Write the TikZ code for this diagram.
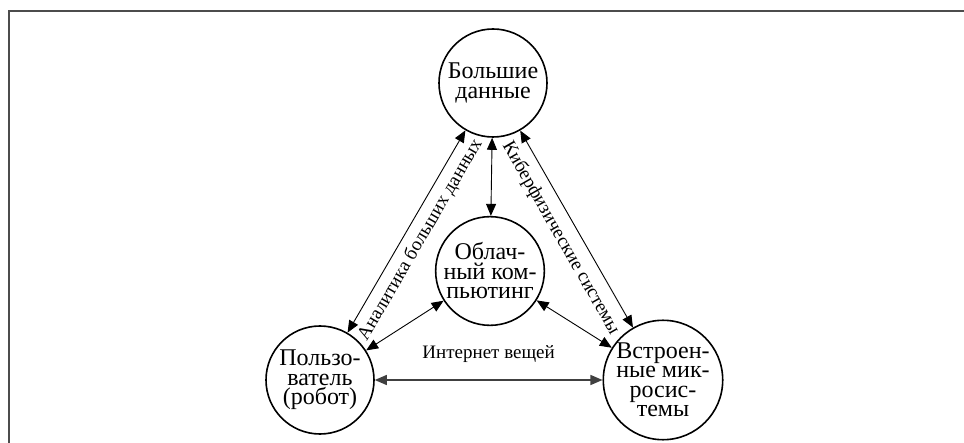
\documentclass[tikz,border=0pt]{standalone}
\usepackage{fontspec}
\setmainfont{Liberation Serif}
\usepackage{tikz}
\usetikzlibrary{shapes,arrows.meta}
\tikzstyle{block} = [circle, draw, line width=1.6pt, minimum size=108pt, inner sep=0pt, align=center, font=\fontsize{24}{19.5}\selectfont]
\tikzstyle{line} = [draw, line width=0.9pt, {Triangle[length=12pt,width=10pt]}-{Triangle[length=12pt,width=10pt]}]
\tikzstyle{lbl} = [font=\fontsize{19}{20}\selectfont, inner sep=2pt]
\tikzstyle{frame} = [draw=black!70, line width=1.5pt]

\begin{document}
\begin{tikzpicture}[x=1pt,y=-1pt]
\useasboundingbox (0,0) rectangle (964,443);
\draw [frame] (9,443) -- (9,11) -- (964,11);

\node [block] (p1) at (493,83) {Большие\\данные};
\node [block] (p2) at (490,271) {Облач-\\ный ком-\\пьютинг};
\node [block] (p3) at (320,380) {Пользо-\\ватель\\(робот)};
\node [block] (p4) at (663,380) {Встроен-\\ные мик-\\росис-\\темы};

\path [line] (p1) -- (p2);
\path [line] (p3) -- node [lbl, sloped, below=5pt] {Аналитика больших данных} (p1);
\path [line] (p1) -- node [lbl, sloped, below=7pt] {Киберфизические системы} (p4);
\path [line] (p3) -- (p2);
\path [line] (p4) -- (p2);

\path [line, line width=1.3pt, draw=black!75] (p3) -- node [lbl, above=15pt] {Интернет вещей} (p4);
\end{tikzpicture}
\end{document}
